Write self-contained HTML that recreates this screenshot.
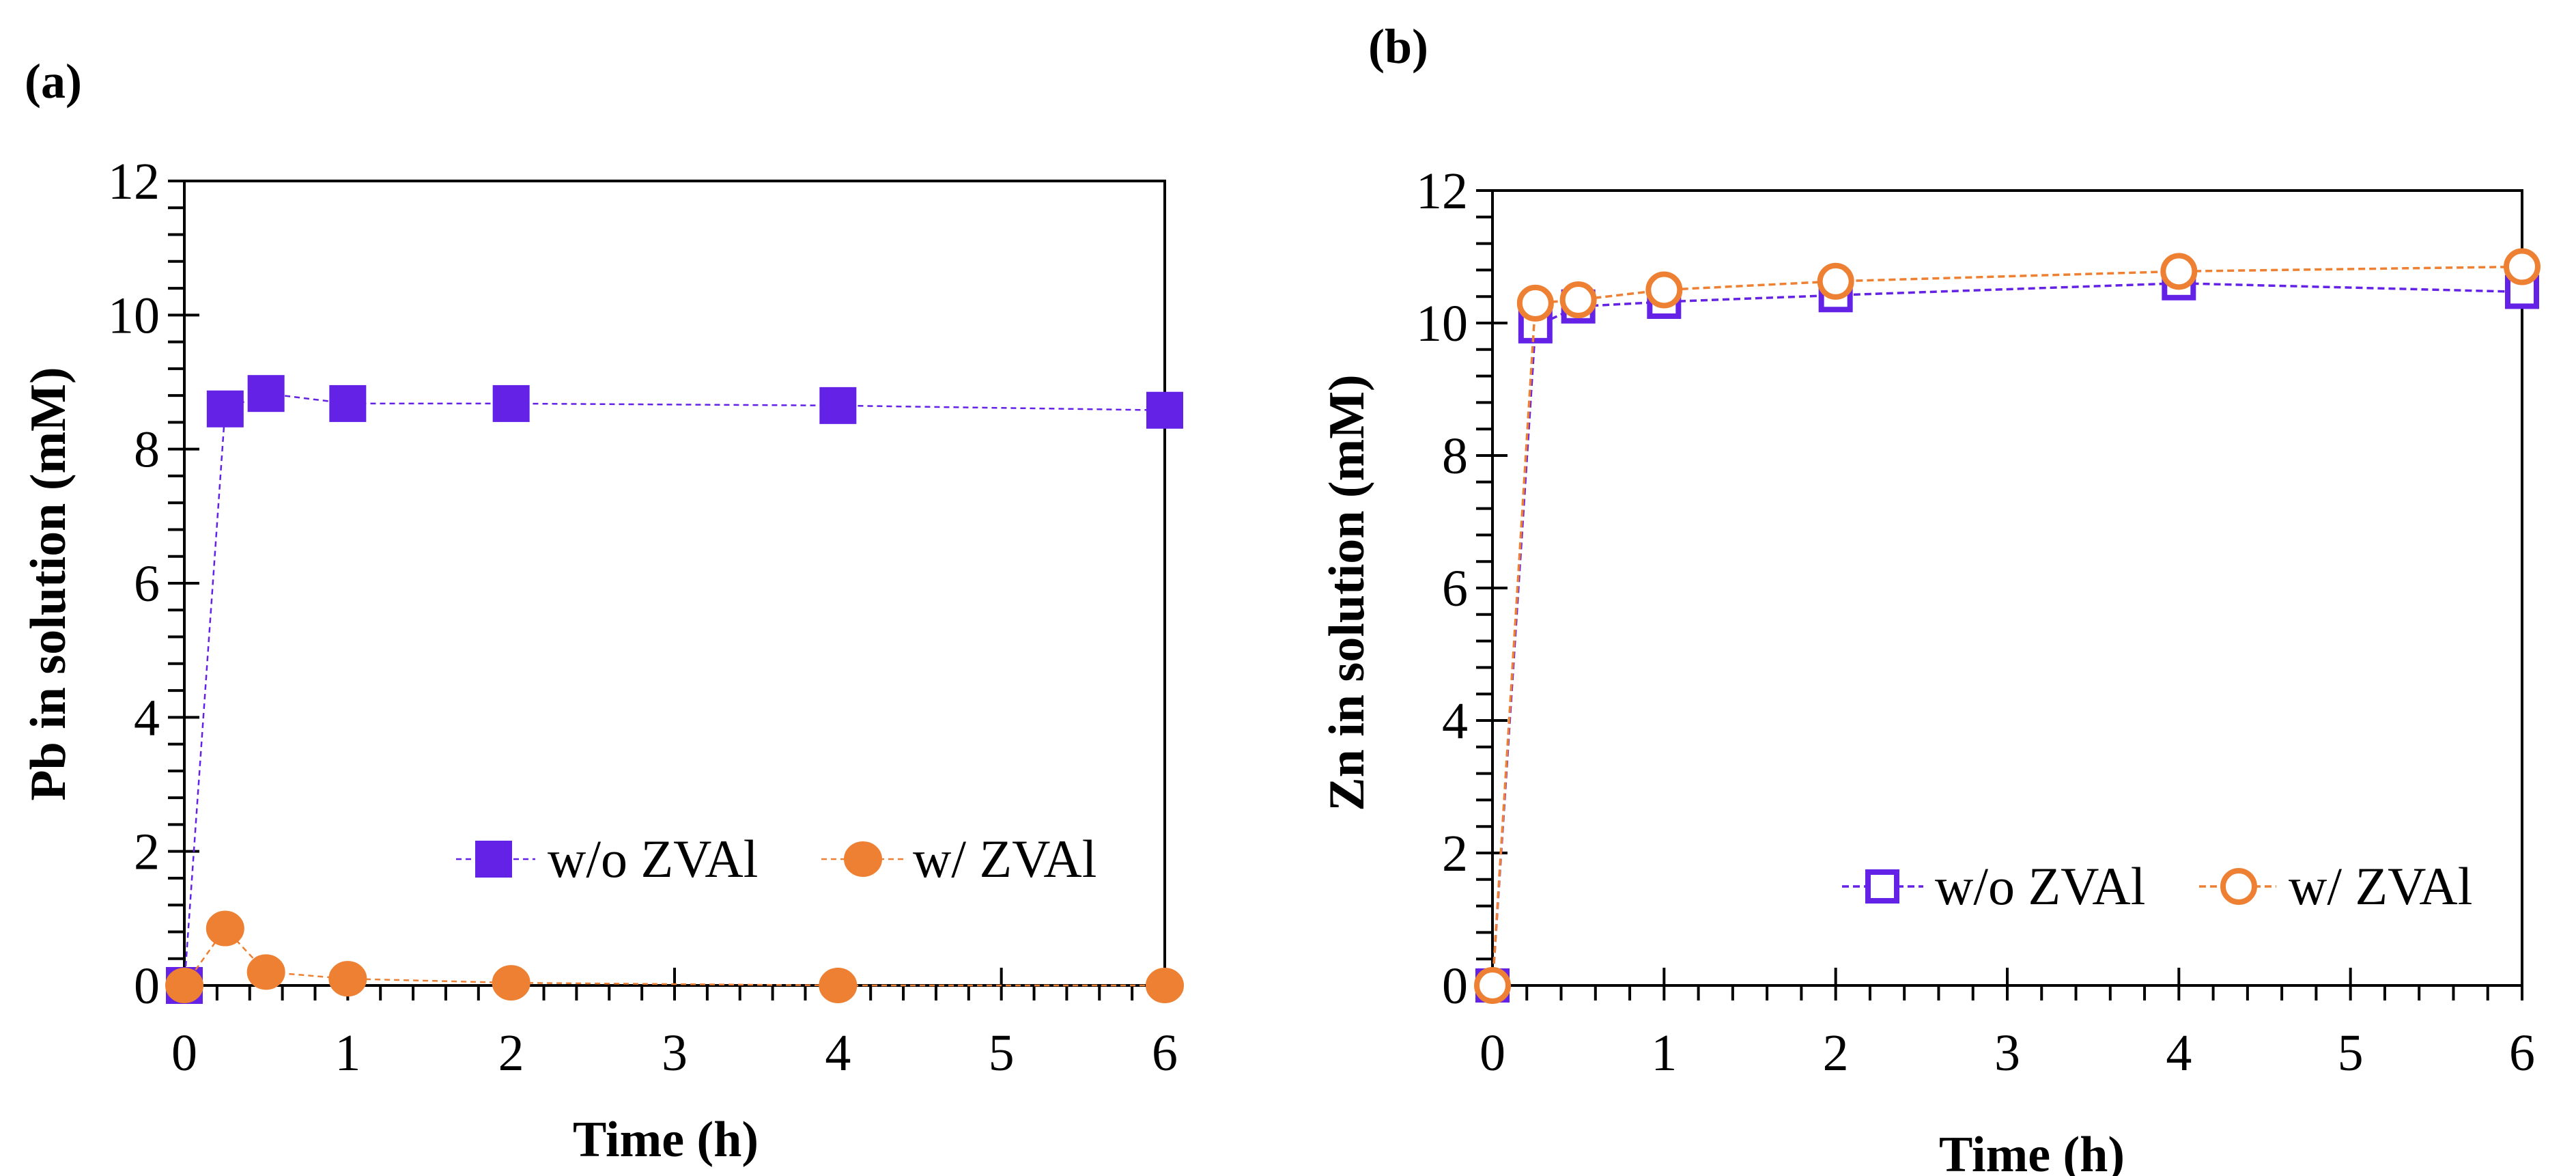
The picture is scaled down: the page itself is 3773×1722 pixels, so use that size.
<!DOCTYPE html>
<html><head><meta charset="utf-8"><style>
html,body{margin:0;padding:0;background:#fff}
svg{display:block}
text{font-family:"Liberation Serif",serif;fill:#000}
</style></head><body>
<svg id="fig" width="3773" height="1722" viewBox="0 0 3773 1722" xmlns="http://www.w3.org/2000/svg">
<text x="36" y="143" font-size="72" font-weight="bold">(a)</text>
<text x="2004" y="92" font-size="72" font-weight="bold">(b)</text>
</svg>
<script>
const timesA = [0, 0.25, 0.5, 1, 2, 4, 6];
const pbWithout = [0, 8.6, 8.83, 8.68, 8.68, 8.65, 8.58];
const pbWith = [0, 0.85, 0.2, 0.1, 0.04, 0, 0];
const timesB = [0, 0.25, 0.5, 1, 2, 4, 6];
const znWithout = [0, 9.95, 10.25, 10.32, 10.42, 10.6, 10.47];
const znWith = [0, 10.3, 10.35, 10.5, 10.63, 10.78, 10.85];
const xTicks = [0, 1, 2, 3, 4, 5, 6];
const yTicks = [0, 2, 4, 6, 8, 10, 12];
const legendLabels = ['w/o ZVAl', 'w/ ZVAl'];

const NS = 'http://www.w3.org/2000/svg';
const svg = document.getElementById('fig');
function mk(tag, attrs, parent) {
  const e = document.createElementNS(NS, tag);
  for (const k in attrs) e.setAttribute(k, attrs[k]);
  (parent || svg).appendChild(e);
  return e;
}
const PURPLE = '#6322e6', ORANGE = '#ee8033';

function panel(cfg) {
  const g = mk('g', {});
  
  
  const X = v => cfg.x0 + (cfg.x1 - cfg.x0) * v / 6;
  const Y = v => cfg.y0 - (cfg.y0 - cfg.y1) * v / 12;
  const frame = mk('rect', {x: cfg.x0, y: cfg.y1, width: cfg.x1 - cfg.x0, height: cfg.y0 - cfg.y1, fill: 'none', stroke: '#000', 'stroke-width': 4}, g);
  
  
  for (let i = 0; i <= 30; i++) {
    const v = i * 0.4, y = Y(v);
    const major = i % 5 === 0;
    mk('line', {x1: cfg.x0 - 24, x2: major ? cfg.x0 + 22 : cfg.x0, y1: y, y2: y, stroke: '#000', 'stroke-width': 4}, g);
  }
  for (let i = 0; i <= 30; i++) {
    const v = i * 0.2, x = X(v);
    const major = i % 5 === 0;
    mk('line', {x1: x, x2: x, y1: major ? cfg.y0 - 26 : cfg.y0, y2: cfg.y0 + 22, stroke: '#000', 'stroke-width': 4}, g);
  }
  yTicks.forEach(v => {
    const t = mk('text', {x: cfg.x0 - 36, y: Y(v) + 26, 'font-size': 76, 'text-anchor': 'end'}, g);
    t.textContent = v;
    
    
  });
  xTicks.forEach(v => {
    const t = mk('text', {x: X(v), y: cfg.y0 + 124, 'font-size': 76, 'text-anchor': 'middle'}, g);
    t.textContent = v;
    
    
  });
  const xt = mk('text', {x: cfg.xtx, y: cfg.xty, 'font-size': 74, 'font-weight': 'bold', 'text-anchor': 'middle'}, g);
  xt.textContent = 'Time (h)';
  
  
  const yt = mk('text', {x: 0, y: 0, 'font-size': 74, 'font-weight': 'bold', 'text-anchor': 'middle', transform: `translate(${cfg.ytx},${cfg.yty}) rotate(-90)`}, g);
  yt.textContent = cfg.ytitle;
  
  

  function series(times, vals, color, shape, name) {
    const sg = mk('g', {}, g);
    
    
    const pts = times.map((t, i) => X(t) + ',' + Y(vals[i])).join(' ');
    mk('polyline', {points: pts, fill: 'none', stroke: color, 'stroke-width': cfg.lw, 'stroke-dasharray': cfg.dash}, sg);
    times.forEach((t, i) => {
      const m = marker(X(t), Y(vals[i]), color, shape, sg);
      
      
    });
  }
  function marker(x, y, color, shape, parent) {
    if (shape === 'square') {
      const s = cfg.open ? 42 : 52;
      return mk('rect', {x: x - s / 2, y: y - s / 2, width: s, height: s, fill: cfg.open ? '#fff' : color, stroke: color, 'stroke-width': cfg.open ? 8 : 2}, parent);
    }
    return mk('ellipse', {cx: x, cy: y, rx: cfg.open ? 23 : 27, ry: cfg.open ? 23 : 25, fill: cfg.open ? '#fff' : color, stroke: color, 'stroke-width': cfg.open ? 8 : 2}, parent);
  }
  series(cfg.t, cfg.s1, PURPLE, 'square', 'series-without-zval');
  series(cfg.t, cfg.s2, ORANGE, 'circle', 'series-with-zval');
  const lg = mk('g', {}, g);
  
  
  cfg.leg.forEach((L, i) => {
    const color = i === 0 ? PURPLE : ORANGE;
    const e = mk('g', {}, lg);
    
    
    mk('line', {x1: L.l1, x2: L.l2, y1: cfg.ly, y2: cfg.ly, stroke: color, 'stroke-width': cfg.lw, 'stroke-dasharray': cfg.dash}, e);
    marker(L.m, cfg.ly, color, i === 0 ? 'square' : 'circle', e);
    const t = mk('text', {x: L.tx, y: cfg.ly + 26, 'font-size': 78}, e);
    t.textContent = legendLabels[i];
  });
}

panel({name: 'chart-pb', x0: 270, x1: 1706, y0: 1443, y1: 265, t: timesA, s1: pbWithout, s2: pbWith,
  ytitle: 'Pb in solution (mM)', ytx: 95, yty: 855, xtx: 975, xty: 1693, lw: 2.5, dash: '8,6', open: false,
  ly: 1258, leg: [{l1: 668, l2: 784, m: 723, tx: 802}, {l1: 1203, l2: 1324, m: 1264, tx: 1337}]});
panel({name: 'chart-zn', x0: 2186, x1: 3694, y0: 1443, y1: 279, t: timesB, s1: znWithout, s2: znWith,
  ytitle: 'Zn in solution (mM)', ytx: 1997, yty: 868, xtx: 2976, xty: 1715, lw: 3.5, dash: '10,6', open: true,
  ly: 1298, leg: [{l1: 2698, l2: 2817, m: 2757, tx: 2834}, {l1: 3221, l2: 3334, m: 3279, tx: 3352}]});
</script>
</body></html>
